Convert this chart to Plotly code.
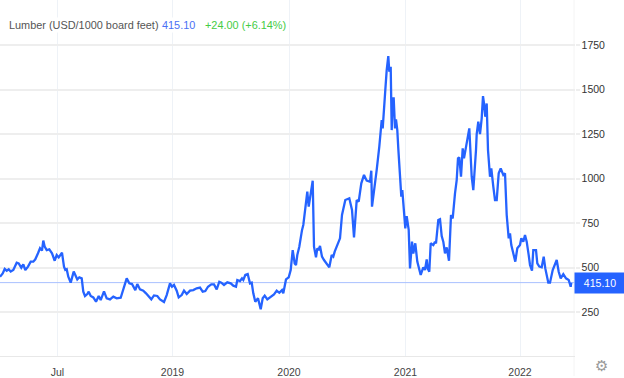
import plotly.graph_objects as go

# Observation index along the chart's (non-uniform) time scale, and price in USD/1000 board feet
obs = [0,2.7,4.7,6.7,8.7,10.7,13.3,16.7,18.7,21.3,23.3,25.3,28,30.7,33.3,35.3,38,40,42,43.3,44.7,46.7,49.3,52,54.7,56.7,58.7,62,64,65.3,66.7,68.3,70.7,72,73.7,75.3,77.3,79.3,81.7,83.3,85,87.3,88.7,90.7,93.3,96,98.7,100.7,104,106.7,110,113.3,116.7,120.7,123.3,126.7,129.3,132,135.3,137.3,140,143.3,146,148.7,151.3,154,157.3,160,164,166.7,170,172,174,176.7,178.7,181.7,184,186.7,190,193.3,196.7,200,
202.7,205.3,208,211.3,214,216.7,219.3,221.3,224,227.3,230.7,233.3,236,237.3,240,242,243.3,245.3,247.7,250,251.7,253.3,255.3,258,260.7,262.7,264.7,267.3,270.7,274,276.7,279.3,282,283.3,286,288.7,290.7,292.7,294.7,296,297.3,299.3,302,303.3,305.3,307.3,308.7,310.7,312.7,314,316,317.3,318.7,320,322,324,326.7,329.3,331.7,333.3,334.7,337.3,340,342,345.3,349.3,352,354,356.7,358.7,361.3,364,366.7,370,371.3,372,374.7,376.7,
379.3,381.7,382.7,384,385.3,386.7,388.3,389.3,390.7,391.7,392.7,393.7,395,396,397.3,398.3,
400,401.3,402.3,404,405.3,406.7,408.7,410,412,413.3,415.3,417.3,420.7,423.3,425,426.7,427.7,429.3,430.7,433.3,435,436,438.3,440,441.7,443.3,445,446.7,449,451,452.7,455,456.7,458,459.3,461,462.7,464,466,467.3,469.3,471.7,473.3,476,476.7,478.3,480,481.7,483,484,485.3,486.7,488,
490,491.3,493.3,495,496.7,498.7,500.7,503.3,505,506.7,508.7,510,511.3,513.3,515.3,517.3,520,521.3,523.3,525,526.7,528.7,530,
532,533.3,536,537.3,539.3,541.7,543.7,545.3,548.3,550,552.7,556.7,558.7,560.7,563.3,566,568.7,570.7,571.3]

price = [448,467,492,482,490,477,486,527,523,499,518,486,505,533,533,546,580,608,595,651,617,598,602,580,538,570,557,583,505,486,490,448,415,445,477,458,433,445,439,364,340,351,364,340,332,308,340,317,366,327,321,336,327,330,373,439,411,407,373,407,377,370,355,336,321,343,340,321,306,345,411,392,402,370,332,345,370,351,370,373,383,387,
364,368,392,405,405,377,420,415,402,417,411,398,392,430,424,439,430,458,463,411,415,355,308,327,265,327,342,321,336,349,370,358,373,355,433,445,486,598,523,514,570,617,710,739,832,926,842,917,988,617,557,608,598,621,561,542,523,501,570,561,589,626,664,795,879,889,823,669,879,870,973,1020,988,982,1044,842,954,1048,
1179,1328,1282,1422,1497,1609,1688,1600,1628,1272,1450,1450,1282,1332,1272,1169,
1010,898,935,782,720,789,711,495,645,579,636,533,458,501,486,546,495,476,636,626,645,636,767,771,677,645,579,613,538,795,776,917,991,1113,1119,1010,1169,1113,1169,1207,1282,1010,935,1160,1250,1319,1250,1338,1463,1422,1347,1422,1160,
1010,1057,954,879,879,1029,1057,1020,1029,795,664,692,626,570,533,608,626,664,645,683,645,570,514,
482,598,598,523,505,501,561,495,415,415,486,542,476,439,463,439,430,392,415]

x_tick_pos = [57.5, 172.5, 289, 405.5, 520]
x_tick_text = ["Jul", "2019", "2020", "2021", "2022"]
y_ticks = [250, 500, 750, 1000, 1250, 1500, 1750]
last_value = 415.10
title_text = "Lumber (USD/1000 board feet)"
value_text = "415.10"
change_text = "+24.00 (+6.14%)"

BLUE = "#2563ff"
FONT = "Liberation Sans, Arial, sans-serif"

fig = go.Figure()
fig.add_trace(go.Scatter(x=[0, 574.5], y=[last_value, last_value], mode="lines",
                         line=dict(color="#a9c0ff", width=1), hoverinfo="skip"))
fig.add_trace(go.Scatter(x=obs, y=price, mode="lines",
                         line=dict(color=BLUE, width=2.3), hoverinfo="skip"))

fig.update_layout(
    width=624, height=378, margin=dict(l=0, r=0, t=0, b=0),
    paper_bgcolor="white", plot_bgcolor="white", showlegend=False,
    font=dict(family=FONT, size=12, color="#333333"),
    xaxis=dict(domain=[0, 574.5/624], range=[0, 574.5], tickmode="array",
               tickvals=x_tick_pos, ticktext=x_tick_text, showgrid=True,
               gridcolor="#eef2f7", gridwidth=1, zeroline=False, showline=True,
               linecolor="#e8e8e8", linewidth=1, ticks="outside", ticklen=6,
               tickcolor="rgba(0,0,0,0)", tickfont=dict(size=10.5, color="#444444"),
               anchor="y"),
    yaxis=dict(domain=[22/378, 1], range=[2.8, 2003], side="right", tickmode="array",
               tickvals=y_ticks, showgrid=True, gridcolor="#eeeeee", gridwidth=1.5,
               zeroline=False, showline=False, ticks="outside", ticklen=4, tickwidth=1.5,
               tickcolor="#eeeeee", tickfont=dict(size=10.5, color="#333333"),
               anchor="x"),
    shapes=[
        dict(type="line", xref="x", yref="paper", x0=574.2, x1=574.2, y0=2/378, y1=1,
             line=dict(color="#eeeeee", width=1), layer="below"),
    ],
    annotations=[
        dict(text=title_text, xref="paper", yref="paper", x=7/624, y=1-25/378, xanchor="left",
             yanchor="middle", showarrow=False, bgcolor="white", font=dict(size=10.9, color="#555555")),
        dict(text=value_text, xref="paper", yref="paper", x=160/624, y=1-25/378, xanchor="left",
             yanchor="middle", showarrow=False, bgcolor="white", font=dict(size=10.9, color="#4a70f5")),
        dict(text=change_text, xref="paper", yref="paper", x=203/624, y=1-25/378, xanchor="left",
             yanchor="middle", showarrow=False, bgcolor="white", font=dict(size=10.9, color="#44cc44")),
        dict(text=value_text, xref="paper", yref="y", x=599.5/624, y=last_value, xanchor="center",
             yanchor="middle", showarrow=False, bgcolor=BLUE, width=48, height=18,
             font=dict(size=10.5, color="white")),
        dict(text="⚙", xref="paper", yref="paper", x=601/624, y=1-366/378, xanchor="center",
             yanchor="middle", showarrow=False, font=dict(family="DejaVu Sans", size=15, color="#999999")),
    ],
)
fig.write_html("out.html", config={"displayModeBar": False},
               post_script="document.body.style.margin='0';document.documentElement.style.overflow='hidden';")
